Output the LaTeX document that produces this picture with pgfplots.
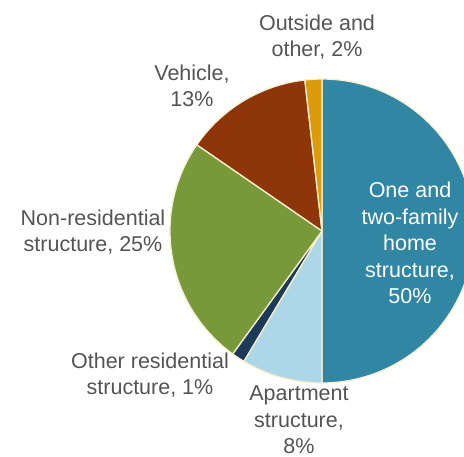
\documentclass[border=0pt]{standalone}
\usepackage{pgfplots}
\pgfplotsset{compat=1.18}
\usepackage{pgfplotstable}
\usepackage{fontspec}
\setmainfont{Liberation Sans}
\definecolor{cOne}{HTML}{3086A3}
\definecolor{cApt}{HTML}{ADD6E6}
\definecolor{cOth}{HTML}{1D3A58}
\definecolor{cNon}{HTML}{77993A}
\definecolor{cVeh}{HTML}{8E360A}
\definecolor{cOut}{HTML}{DA9B0C}
\definecolor{cBorder}{HTML}{F6F0CE}
\definecolor{labelgray}{HTML}{545454}
\pgfplotstableread{
label value color
one 50.0 cOne
apt 8.6 cApt
oth 1.4 cOth
non 24.6 cNon
veh 13.6 cVeh
out 1.8 cOut
}\piedata
\begin{document}
\begin{tikzpicture}
\xdef\cum{90}
\pgfplotsforeachungrouped \i in {0,...,5}{%
  \pgfplotstablegetelem{\i}{value}\of\piedata
  \pgfmathsetmacro\endang{\cum-3.6*\pgfplotsretval}%
  \expandafter\xdef\csname s\i\endcsname{\cum}%
  \expandafter\xdef\csname e\i\endcsname{\endang}%
  \pgfplotstablegetelem{\i}{color}\of\piedata
  \expandafter\xdef\csname c\i\endcsname{\pgfplotsretval}%
  \xdef\cum{\endang}%
}
\begin{axis}[hide axis, scale only axis, width=464pt, height=457pt,
  xmin=0, xmax=464, ymin=0, ymax=457, y dir=reverse,
  at={(0,0)}, anchor=south west]
\pgfplotsinvokeforeach{0,...,5}{%
  \edef\temp{\noexpand\filldraw[fill=\csname c#1\endcsname, draw=cBorder, line width=1.3pt, line join=round]
   (axis cs:322,231) -- ++(\csname s#1\endcsname:152pt)
   arc[start angle=\csname s#1\endcsname, end angle=\csname e#1\endcsname, radius=152pt] -- cycle;}%
  \temp
}
\tikzset{lbl/.style={align=center, inner sep=0pt, text=labelgray, font=\fontsize{21.5}{26.5}\selectfont}}
\node[lbl] at (axis cs:317,37) {Outside and\\other, 2\%};
\node[lbl] at (axis cs:192,86) {Vehicle,\\13\%};
\node[lbl] at (axis cs:93,232) {Non-residential\\structure, 25\%};
\node[lbl, text=white] at (axis cs:410,243) {One and\\two-family\\home\\structure,\\50\%};
\node[lbl] at (axis cs:150,375) {Other residential\\structure, 1\%};
\node[lbl] at (axis cs:299,420) {Apartment\\structure,\\8\%};
\end{axis}
\pgfresetboundingbox
\useasboundingbox (0,0) rectangle (464pt,457pt);
\end{tikzpicture}
\end{document}
